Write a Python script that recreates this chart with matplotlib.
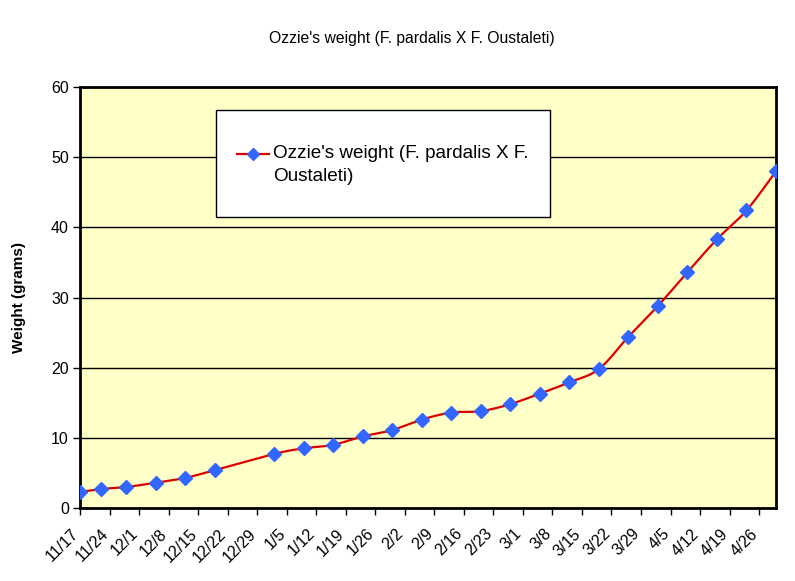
import numpy as np
import pandas as pd
import matplotlib
matplotlib.use("Agg")
import matplotlib.pyplot as plt
import matplotlib.dates as mdates
import matplotlib.transforms as mtransforms
from matplotlib.patches import Rectangle
from matplotlib.legend_handler import HandlerLine2D

# weigh-in dates and weights (grams)
dates = ["2007-11-17", "2007-11-22", "2007-11-28", "2007-12-05", "2007-12-12",
         "2007-12-19", "2008-01-02", "2008-01-09", "2008-01-16", "2008-01-23",
         "2008-01-30", "2008-02-06", "2008-02-13", "2008-02-20", "2008-02-27",
         "2008-03-05", "2008-03-12", "2008-03-19", "2008-03-26", "2008-04-02",
         "2008-04-09", "2008-04-16", "2008-04-23", "2008-04-30"]
weights = [2.3, 2.7, 3.0, 3.6, 4.3, 5.4, 7.7, 8.5, 9.0, 10.2, 11.1, 12.6,
           13.6, 13.8, 14.8, 16.3, 17.9, 19.8, 24.4, 28.8, 33.6, 38.3, 42.4, 48.0]

tick_dates = pd.date_range("2007-11-17", "2008-04-26", freq="7D")
tick_labels = [f"{d.month}/{d.day}" for d in tick_dates]

series_name = "Ozzie's weight (F. pardalis X F.\nOustaleti)"
title = "Ozzie's weight (F. pardalis X F. Oustaleti)"

plt.rcParams['font.family'] = ['Liberation Sans', 'DejaVu Sans']

x = mdates.date2num(pd.to_datetime(dates).to_pydatetime())
y = np.array(weights)


def smooth(xs, ys, n=20):
    # Catmull-Rom style smoothing like the spreadsheet "smoothed line"
    px = np.concatenate([[xs[0]], xs, [xs[-1]]])
    py = np.concatenate([[ys[0]], ys, [ys[-1]]])
    outx, outy = [], []
    t = np.linspace(0, 1, n, endpoint=False)
    for i in range(1, len(px) - 2):
        p0x, p1x, p2x, p3x = px[i - 1], px[i], px[i + 1], px[i + 2]
        p0y, p1y, p2y, p3y = py[i - 1], py[i], py[i + 1], py[i + 2]
        c1x = p1x + (p2x - p0x) / 6
        c1y = p1y + (p2y - p0y) / 6
        c2x = p2x - (p3x - p1x) / 6
        c2y = p2y - (p3y - p1y) / 6
        outx.append((1-t)**3*p1x + 3*(1-t)**2*t*c1x + 3*(1-t)*t**2*c2x + t**3*p2x)
        outy.append((1-t)**3*p1y + 3*(1-t)**2*t*c1y + 3*(1-t)*t**2*c2y + t**3*p2y)
    outx.append([xs[-1]])
    outy.append([ys[-1]])
    return np.concatenate(outx), np.concatenate(outy)


class HandlerFirstLine(HandlerLine2D):
    # put the legend symbol next to the first line of the wrapped label
    def create_artists(self, legend, orig_handle, xdescent, ydescent,
                       width, height, fontsize, trans):
        up = mtransforms.Affine2D().translate(0, 8) + trans
        return super().create_artists(legend, orig_handle, xdescent, ydescent,
                                      width, height, fontsize, up)


sx, sy = smooth(x, y)

fig = plt.figure(figsize=(7.95, 5.81), dpi=100)
ax = fig.add_axes([80/795, 1-508/581, 696/795, 421/581])
ax.set_facecolor("#FFFFC8")

ax.plot(sx, sy, color="#DD0000", lw=1.6, zorder=3)
ax.plot(x, y, ls="none", marker="D", ms=7, color="#3366FF", zorder=4)
# legend handle
hnd, = ax.plot([], [], color="#DD0000", lw=1.6, marker="D", ms=6.5,
               mfc="#3366FF", mec="#3366FF", label=series_name)

ax.set_xlim(x[0], x[-1])
ax.set_ylim(0, 60)
ax.set_yticks(range(0, 61, 10))
ax.yaxis.grid(True, color="black", lw=1)
ax.set_axisbelow(True)

ax.set_xticks(mdates.date2num(tick_dates.to_pydatetime()))
ax.set_xticklabels(tick_labels, rotation=45, ha="right", rotation_mode="anchor")
ax.tick_params(axis="x", labelsize=11.5, length=5, width=1, direction="out", pad=8)
ax.tick_params(axis="y", labelsize=11.5, length=5, width=1, direction="out", pad=3)
shift = mtransforms.ScaledTranslation(-9/100, 0, fig.dpi_scale_trans)
for lab in ax.get_xticklabels():
    lab.set_transform(lab.get_transform() + shift)

for s in ax.spines.values():
    s.set_linewidth(2)
    s.set_color("black")

ax.set_ylabel("Weight (grams)", fontsize=11, fontweight="bold", labelpad=18)
fig.text(412/795, 1-38/581, title, ha="center", va="center", fontsize=11.3)

# legend box
ax.add_patch(Rectangle((216/795, 1-217/581), 334/795, 107/581,
                       transform=fig.transFigure, facecolor="white",
                       edgecolor="black", lw=1, zorder=5, clip_on=False))
leg = ax.legend(loc="center left", bbox_to_anchor=(237/795, 1-165/581),
                bbox_transform=fig.transFigure, fontsize=13.6, frameon=False,
                borderpad=0, handlelength=1.7, handletextpad=0.2,
                borderaxespad=0, handler_map={hnd: HandlerFirstLine()})
leg.set_zorder(6)
for t in leg.get_texts():
    t.set_linespacing(1.45)

fig.savefig("out.png", dpi=100)
